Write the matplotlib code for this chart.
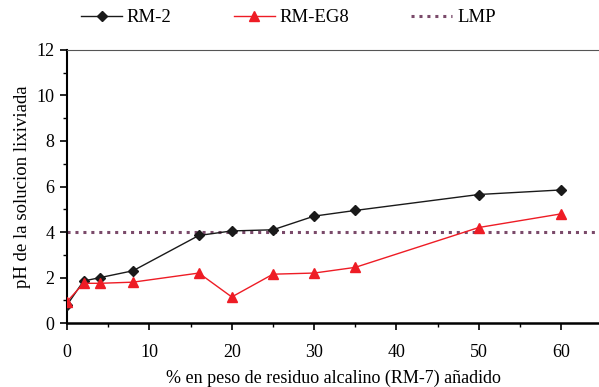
import numpy as np
from matplotlib import pyplot as plt
from matplotlib.ticker import MultipleLocator

plt.rcParams['font.family'] = ['Liberation Serif', 'DejaVu Serif']

x = [0, 2, 4, 8, 16, 20, 25, 30, 35, 50, 60]
rm2 = [0.8, 1.85, 2.0, 2.3, 3.85, 4.05, 4.1, 4.7, 4.95, 5.65, 5.85]
rmeg8 = [0.95, 1.75, 1.75, 1.8, 2.2, 1.15, 2.15, 2.2, 2.45, 4.2, 4.8]
lmp = 4.0

fig = plt.figure(figsize=(5.99, 3.87), dpi=100)
ax = fig.add_axes([0.112, 0.165, 0.888, 0.706])

ax.plot(x, rm2, color='#1a1a1a', lw=1.0, marker='D', ms=5, label='RM-2', zorder=3)
ax.plot(x, rmeg8, color='#ee1c25', lw=1.0, marker='^', ms=7, label='RM-EG8', zorder=3)
ax.axhline(lmp, color='#7a4a6a', lw=2.2, ls=(0, (1, 1.6)), label='LMP', zorder=2)

ax.set_xlim(0, 64.6)
ax.set_ylim(0, 12)
ax.xaxis.set_major_locator(MultipleLocator(10))
ax.xaxis.set_minor_locator(MultipleLocator(5))
ax.yaxis.set_major_locator(MultipleLocator(2))
ax.yaxis.set_minor_locator(MultipleLocator(1))

ax.spines['right'].set_visible(False)
ax.spines['top'].set_color('#555555')
ax.spines['left'].set_linewidth(1.5)
ax.spines['bottom'].set_linewidth(1.8)

ax.tick_params(which='major', direction='out', length=5, width=1.2, labelsize=13, pad=10)
ax.tick_params(which='minor', direction='out', length=3, width=1.0)
ax.tick_params(axis='y', pad=4)

ax.set_xlabel('% en peso de residuo alcalino (RM-7) añadido', fontsize=13, labelpad=6)
ax.set_ylabel('pH de la solucion lixiviada', fontsize=13.5)

fig.legend(loc='upper left', bbox_to_anchor=(81 / 599, 1 - 9 / 387), ncol=3, frameon=False,
           fontsize=13.5, handlelength=2.2, columnspacing=3.3, handletextpad=0.25,
           borderpad=0, borderaxespad=0)

fig.savefig('out.png', dpi=100)
